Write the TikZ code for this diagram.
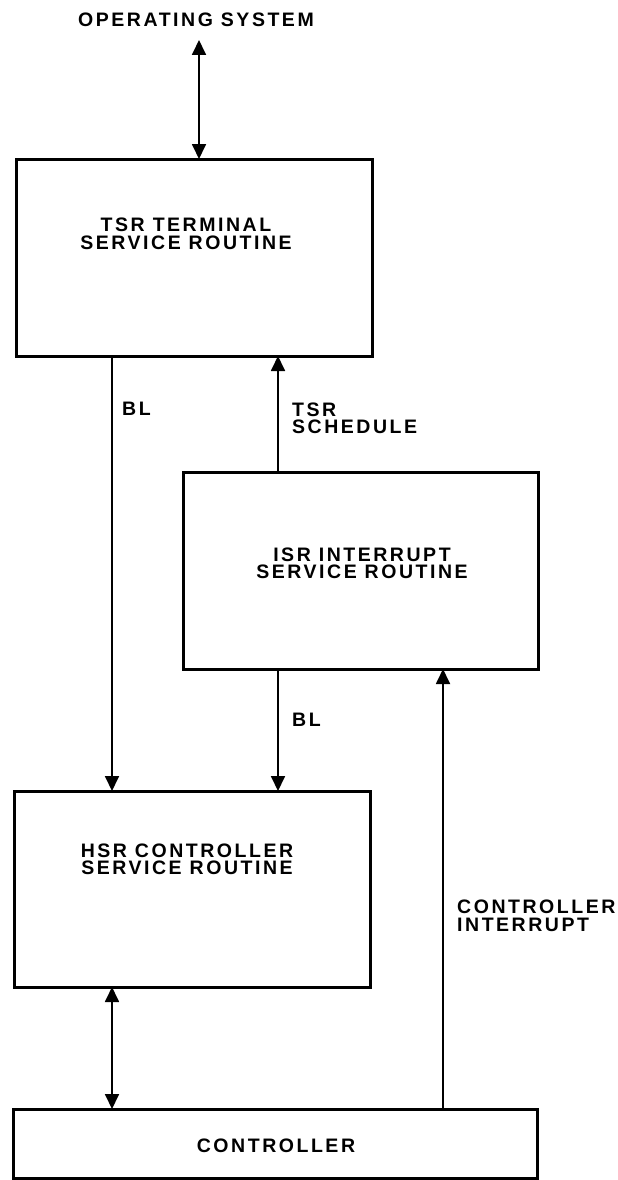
\documentclass[tikz,border=0pt]{standalone}
\usepackage{fontspec}
\setmainfont{Liberation Sans}[LetterSpace=13]
\usetikzlibrary{arrows.meta}
\begin{document}
\begin{tikzpicture}[x=1pt,y=-1pt,
  box/.style={draw, line width=3pt, inner sep=0pt, outer sep=0pt},
  txt/.style={font=\bfseries\fontsize{19.5}{17.5}\selectfont, align=center, inner sep=0pt},
  lbl/.style={font=\bfseries\fontsize{19.5}{17.5}\selectfont, align=left, inner sep=0pt, anchor=west},
  conn/.style={line width=1.8pt, -{Triangle[length=15pt,width=14pt]}},
  both/.style={line width=1.8pt, {Triangle[length=15pt,width=14pt]}-{Triangle[length=15pt,width=14pt]}}]
\useasboundingbox (0,0) rectangle (618,1180);
% boxes
\node[box, minimum width=356pt, minimum height=197pt] (tsr) at (194,257.5) {};
\node[box, minimum width=355pt, minimum height=197pt] (isr) at (360.5,570.5) {};
\node[box, minimum width=356pt, minimum height=196pt] (hsr) at (192,889) {};
\node[box, minimum width=524pt, minimum height=69pt] (ctrl) at (275,1143.5) {};
% texts
\node[txt] (os) at (196,20) {OPERATING SYSTEM};
\node[txt] (tsrt) at (186,234) {TSR TERMINAL\\SERVICE ROUTINE};
\node[txt] (isrt) at (362,563.5) {ISR INTERRUPT\\SERVICE ROUTINE};
\node[txt] (hsrt) at (187,859.5) {HSR CONTROLLER\\SERVICE ROUTINE};
\node[txt] (ctrlt) at (276,1146) {CONTROLLER};
\node[lbl] (bl1) at (122,409) {BL};
\node[lbl] (sched) at (292,418.5) {TSR\\SCHEDULE};
\node[lbl] (bl2) at (292,720) {BL};
\node[lbl] (ci) at (457,916) {CONTROLLER\\INTERRUPT};
% x positions
\coordinate (xa) at (199,0);
\coordinate (xb) at (112,0);
\coordinate (xc) at (278,0);
\coordinate (xd) at (443,0);
\coordinate (ostip) at (199,40);
% connectors
\draw[both] (ostip) -- (tsr.north -| xa);
\draw[conn] (tsr.south -| xb) -- (hsr.north -| xb);
\draw[conn] (isr.north -| xc) -- (tsr.south -| xc);
\draw[conn] (isr.south -| xc) -- (hsr.north -| xc);
\draw[conn] (ctrl.north -| xd) -- (isr.south -| xd);
\draw[both] (hsr.south -| xb) -- (ctrl.north -| xb);
\end{tikzpicture}
\end{document}
